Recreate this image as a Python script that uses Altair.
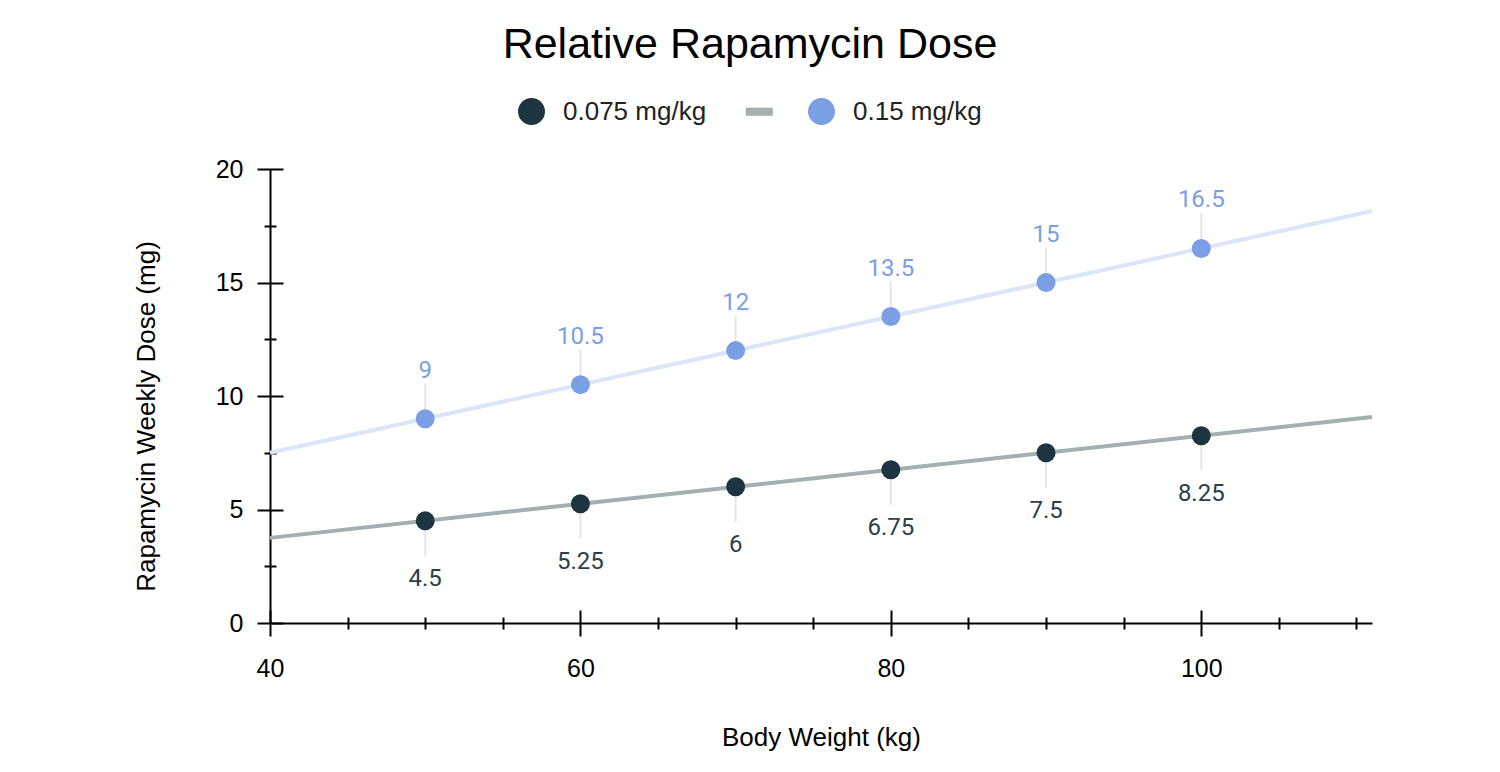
import altair as alt
import pandas as pd

# body weight (kg) and weekly dose (mg) for each dosing level
pesos = [50, 60, 70, 80, 90, 100]
dose_baixa = [4.5, 5.25, 6, 6.75, 7.5, 8.25]
dose_alta = [9, 10.5, 12, 13.5, 15, 16.5]

serie_baixa = "0.075 mg/kg"
serie_alta = "0.15 mg/kg"
serie_tendencia = "trend"

ticks_x = [40, 60, 80, 100]
ticks_x_menor = [45, 50, 55, 65, 70, 75, 85, 90, 95, 105, 110]
ticks_y = [0, 5, 10, 15, 20]
ticks_y_menor = [2.5, 7.5, 12.5, 17.5]

df = pd.DataFrame({
    "peso": pesos + pesos,
    "dose": dose_baixa + dose_alta,
    "serie": [serie_baixa] * len(pesos) + [serie_alta] * len(pesos),
})

cor_escura = "#1c3540"
cor_clara = "#7a9fe4"
cor_linha_escura = "#a4afaf"
cor_linha_clara = "#dbe5f8"
cor_guia = "#e6e6e6"
fonte = "Liberation Sans"

escala_x = alt.Scale(domain=[40, 111], nice=False, zero=False)
escala_y = alt.Scale(domain=[0, 20], nice=False)

base = alt.Chart(df)


def eixo_x(**kw):
    return alt.Axis(orient="bottom", grid=False, domainColor="black", tickColor="black",
                    labelFont=fonte, labelFontSize=25, labelColor="black", labelFlush=False,
                    titleFont=fonte, titleFontSize=26, titleFontWeight="normal", titleColor="black", **kw)


def eixo_y(**kw):
    return alt.Axis(orient="left", grid=False, domainColor="black", tickColor="black",
                    labelFont=fonte, labelFontSize=25, labelColor="black", labelFlush=False,
                    titleFont=fonte, titleFontSize=26, titleFontWeight="normal", titleColor="black", **kw)


# trend lines, these carry the axis lines and titles
tendencia_baixa = base.transform_filter(
    alt.datum.serie == serie_baixa
).transform_regression("peso", "dose", extent=[40, 111]).mark_line(
    color=cor_linha_escura, strokeWidth=4
).encode(
    x=alt.X("peso:Q", scale=escala_x, axis=eixo_x(
        title="Body Weight (kg)", ticks=False, labels=False, domainWidth=2, titlePadding=101)),
    y=alt.Y("dose:Q", scale=escala_y, axis=eixo_y(
        title="Rapamycin Weekly Dose (mg)", ticks=False, labels=False, domainWidth=2,
        titleX=-124, titleY=247, titleBaseline="middle")),
)

tendencia_alta = base.transform_filter(
    alt.datum.serie == serie_alta
).transform_regression("peso", "dose", extent=[40, 111]).mark_line(
    color=cor_linha_clara, strokeWidth=4
).encode(
    x=alt.X("peso:Q", scale=escala_x, axis=None),
    y=alt.Y("dose:Q", scale=escala_y, axis=None),
)

# leader lines between point and label, these carry the major ticks
guia_baixa = base.transform_filter(alt.datum.serie == serie_baixa).mark_rule(
    color=cor_guia, strokeWidth=2, y2Offset=35
).encode(
    x=alt.X("peso:Q", scale=escala_x, axis=eixo_x(
        title=None, values=ticks_x, domain=False, offset=-13, tickSize=26, tickWidth=2, labelPadding=20)),
    y=alt.Y("dose:Q", scale=escala_y, axis=eixo_y(
        title=None, values=ticks_y, domain=False, offset=-13, tickSize=26, tickWidth=2, labelPadding=14)),
    y2="dose:Q",
)

guia_alta = base.transform_filter(alt.datum.serie == serie_alta).mark_rule(
    color=cor_guia, strokeWidth=2, y2Offset=-35
).encode(
    x=alt.X("peso:Q", scale=escala_x, axis=None),
    y=alt.Y("dose:Q", scale=escala_y, axis=None),
    y2="dose:Q",
)

# points, these carry the minor ticks and the legend
pontos = base.mark_point(filled=True, size=361, opacity=1, strokeWidth=0).encode(
    x=alt.X("peso:Q", scale=escala_x, axis=eixo_x(
        title=None, values=ticks_x_menor, domain=False, labels=False, offset=-6, tickSize=12, tickWidth=2)),
    y=alt.Y("dose:Q", scale=escala_y, axis=eixo_y(
        title=None, values=ticks_y_menor, domain=False, labels=False, offset=-6, tickSize=12, tickWidth=2)),
    color=alt.Color("serie:N", scale=alt.Scale(
        domain=[serie_baixa, serie_tendencia, serie_alta],
        range=[cor_escura, cor_linha_escura, cor_clara]),
        legend=alt.Legend(
            title=None, orient="none", direction="horizontal", legendX=248, legendY=-71,
            symbolSize=729, labelFont=fonte, labelFontSize=26, labelColor="#222",
            labelOffset=18, columnPadding=28, padding=0, symbolStrokeWidth=0,
            labelExpr="datum.label == 'trend' ? '' : datum.label")),
    shape=alt.Shape("serie:N", scale=alt.Scale(
        domain=[serie_baixa, serie_tendencia, serie_alta],
        range=["circle", "M-0.2,-0.3H1.8V0.3H-0.2Z", "circle"])),
)

rotulo_baixa = base.transform_filter(alt.datum.serie == serie_baixa).mark_text(
    font="Roboto", fontSize=24, dy=58, baseline="middle", color="#2a4049"
).encode(
    x=alt.X("peso:Q", scale=escala_x, axis=None),
    y=alt.Y("dose:Q", scale=escala_y, axis=None),
    text="dose:Q",
)

rotulo_alta = base.transform_filter(alt.datum.serie == serie_alta).mark_text(
    font="Roboto", fontSize=24, dy=-48, baseline="middle", color=cor_clara
).encode(
    x=alt.X("peso:Q", scale=escala_x, axis=None),
    y=alt.Y("dose:Q", scale=escala_y, axis=None),
    text="dose:Q",
)

chart = alt.layer(
    tendencia_baixa, tendencia_alta, guia_baixa, guia_alta, pontos, rotulo_baixa, rotulo_alta
).resolve_axis(
    x="independent", y="independent"
).properties(
    width=1102,
    height=454,
    autosize=alt.AutoSizeParams(type="none"),
    padding={"left": 262, "top": 161, "right": 100, "bottom": 130},
    title=alt.TitleParams("Relative Rapamycin Dose", font=fonte, fontSize=43,
                          fontWeight="normal", color="black", offset=31, dx=-71),
    background="white",
).configure_view(
    stroke=None
)

chart.save("out.html", embed_options={"renderer": "svg", "actions": False})
